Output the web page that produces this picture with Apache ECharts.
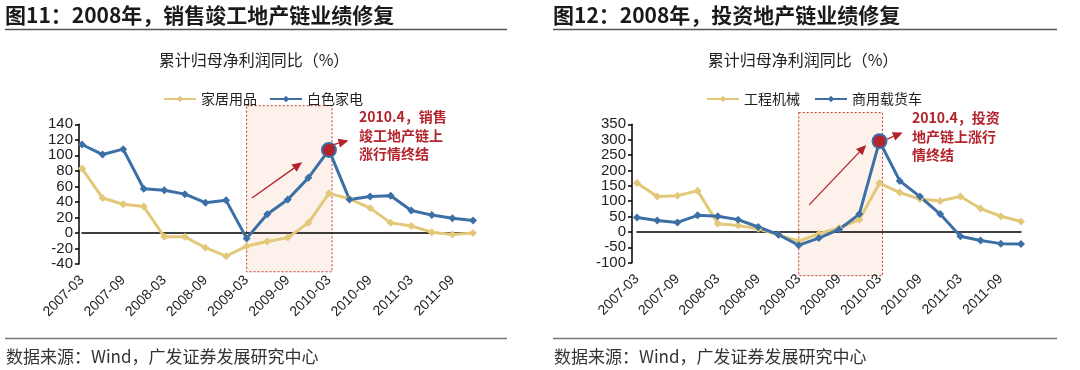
<!DOCTYPE html>
<html><head><meta charset="utf-8">
<script src="https://cdn.jsdelivr.net/npm/echarts@6/dist/echarts.min.js"></script>
<style>html,body{margin:0;padding:0;background:#fff}#c{width:1080px;height:370px}</style>
</head><body><div id="c"></div>
<script>
// ---- data ----
const categories = ['2007-03','2007-06','2007-09','2007-12','2008-03','2008-06','2008-09','2008-12',
  '2009-03','2009-06','2009-09','2009-12','2010-03','2010-06','2010-09','2010-12',
  '2011-03','2011-06','2011-09','2011-12'];
const leftTicks = [-40, 140, 20];
const rightTicks = [-100, 350, 50];
const homeFurnishing = [83,45,37,34,-5,-5,-19,-30,-17,-11,-6,13,51,44,32,13,9,1,-2,0];      // 家居用品
const whiteGoods     = [114,101,108,57,55,50,39,42,-7,24,43,71,107,43,47,48,29,23,19,16];   // 白色家电
const constructionMach = [159,115,118,134,27,21,10,-9,-30,-6,13,40,159,128,107,101,115,76,51,34]; // 工程机械
const commercialTruck  = [47,37,31,54,51,40,16,-9,-43,-20,8,58,295,166,115,58,-14,-28,-38,-39]; // 商用载货车
const peakIndex = 12;
const boxStart = 8, boxEnd = 12.15;
const leftBoxRange = [164, -50], rightBoxRange = [388, -142];

const BLUE = '#3B6FA6', YELLOW = '#E3C879', RED = '#B3232B';
const FONT = '"Liberation Sans", Arial, sans-serif';
const CJK = '"Noto Sans CJK SC", sans-serif';

const chart = echarts.init(document.getElementById('c'), null, {renderer:'canvas'});

function peakData(arr){
  return arr.map((v,i)=> i===peakIndex ? {value:v, symbol:'circle', symbolSize:14,
     itemStyle:{color:RED, borderColor:BLUE, borderWidth:2}} : v);
}
function xAxes(grid){
  return [{
    type:'category', gridIndex:grid, data:categories, boundaryGap:false, position:'bottom',
    axisLine:{show:false, onZero:false}, axisTick:{show:false},
    axisLabel:{interval:1, rotate:45, margin:14, fontSize:14, color:'#222', fontFamily:FONT}
  },{
    type:'category', gridIndex:grid, data:categories, boundaryGap:false, position:'bottom',
    axisLine:{show:true, onZero:true, lineStyle:{color:'#000', width:1.5}},
    axisTick:{show:false}, axisLabel:{show:false}
  }];
}
function yAxis(grid, t, off, fs){
  return {type:'value', gridIndex:grid, min:t[0], max:t[1], interval:t[2], offset:off,
    axisLine:{show:true, lineStyle:{color:'#000', width:1.5}},
    axisTick:{show:true, inside:false, length:4, lineStyle:{color:'#000', width:1.5}},
    splitLine:{show:false},
    axisLabel:{fontSize:fs, color:'#222', fontFamily:FONT, margin:6}};
}
function lineSeries(name, data, color, xi, yi){
  return {name, type:'line', xAxisIndex:xi, yAxisIndex:yi, data, showAllSymbol:true,
    symbol:'diamond', symbolSize:8, lineStyle:{width:3, color}, itemStyle:{color},
    animation:false};
}

const option = {
  animation:false,
  grid:[{left:82, top:124.3, width:391, height:139.7},{left:637, top:124.3, width:384, height:138.4}],
  xAxis:[...xAxes(0), ...xAxes(1)],
  yAxis:[yAxis(0, leftTicks, 3, 15), yAxis(1, rightTicks, 5, 15)],
  legend:[
    {data:['家居用品','白色家电'], left:158, top:87, itemWidth:32, itemHeight:8, itemGap:12,
     textStyle:{fontSize:14, color:'#222', fontFamily:CJK}},
    {data:['工程机械','商用载货车'], left:701, top:87, itemWidth:32, itemHeight:8, itemGap:14,
     textStyle:{fontSize:14, color:'#222', fontFamily:CJK}}
  ],
  series:[
    lineSeries('家居用品', homeFurnishing, YELLOW, 0, 0),
    lineSeries('白色家电', peakData(whiteGoods), BLUE, 0, 0),
    lineSeries('工程机械', constructionMach, YELLOW, 2, 1),
    lineSeries('商用载货车', peakData(commercialTruck), BLUE, 2, 1)
  ]
};
chart.setOption(option);

// ---- annotations positioned through the chart's own scales ----
function px(seriesIndex, idx, val){
  const i0 = Math.floor(idx), f = idx - i0;
  const a = chart.convertToPixel({seriesIndex}, [i0, val]);
  const b = chart.convertToPixel({seriesIndex}, [i0+1, val]);
  return [a[0] + (b[0]-a[0])*f, a[1]];
}
function arrow(p0, p1){
  const dx = p1[0]-p0[0], dy = p1[1]-p0[1], L = Math.hypot(dx,dy);
  const ux = dx/L, uy = dy/L, hl = 10, hw = 4.5;
  const base = [p1[0]-ux*hl, p1[1]-uy*hl];
  return [
    {type:'line', silent:true, z:5, shape:{x1:p0[0], y1:p0[1], x2:base[0], y2:base[1]}, style:{stroke:RED, lineWidth:1.3}},
    {type:'polygon', silent:true, z:5, shape:{points:[p1, [base[0]-uy*hw, base[1]+ux*hw], [base[0]+uy*hw, base[1]-ux*hw]]}, style:{fill:RED}}
  ];
}
function boxRect(si, range){
  const a = px(si, boxStart, range[0]), b = px(si, boxEnd, range[1]);
  return {type:'rect', silent:true, z:0, shape:{x:a[0], y:a[1], width:b[0]-a[0], height:b[1]-a[1]},
    style:{fill:'rgba(252,236,228,0.75)', stroke:'#C0392B', lineWidth:1, lineDash:[2,2]}};
}
const g = [];
g.push(boxRect(1, leftBoxRange));
g.push(boxRect(3, rightBoxRange));
g.push(...arrow(px(1, 8.26, 45), px(1, 10.7, 91)));
g.push(...arrow(px(1, 12.1, 113), px(1, 12.95, 119)));
g.push(...arrow(px(3, 8.52, 88), px(3, 11.34, 283)));
g.push(...arrow(px(3, 12.38, 302), px(3, 13.15, 323)));

// titles
g.push({type:'text', x:5, y:15, silent:true, style:{text:'图11：2008年，销售竣工地产链业绩修复', fill:'#1a1a1a', font:'bold 21px '+CJK, verticalAlign:'middle'}});
g.push({type:'text', x:553, y:15, silent:true, style:{text:'图12：2008年，投资地产链业绩修复', fill:'#1a1a1a', font:'bold 21px '+CJK, verticalAlign:'middle'}});
g.push({type:'line', silent:true, shape:{x1:5,y1:29.5,x2:507,y2:29.5}, style:{stroke:'#555', lineWidth:1.5}});
g.push({type:'line', silent:true, shape:{x1:553,y1:29.5,x2:1057,y2:29.5}, style:{stroke:'#555', lineWidth:1.5}});
// subtitles
g.push({type:'text', x:254, y:60, silent:true, style:{text:'累计归母净利润同比（%）', fill:'#222', font:'16px '+CJK, align:'center', verticalAlign:'middle'}});
g.push({type:'text', x:803, y:60, silent:true, style:{text:'累计归母净利润同比（%）', fill:'#222', font:'16px '+CJK, align:'center', verticalAlign:'middle'}});
// annotation texts
g.push({type:'text', x:359, y:107.5, silent:true, z:5, style:{text:'2010.4，销售\n竣工地产链上\n涨行情终结', fill:RED, font:'bold 14px '+CJK, lineHeight:18.5, verticalAlign:'top'}});
g.push({type:'text', x:912, y:108.5, silent:true, z:5, style:{text:'2010.4，投资\n地产链上涨行\n情终结', fill:RED, font:'bold 14px '+CJK, lineHeight:18.5, verticalAlign:'top'}});
// footers
g.push({type:'line', silent:true, shape:{x1:5,y1:338.5,x2:507,y2:338.5}, style:{stroke:'#777', lineWidth:1.5}});
g.push({type:'line', silent:true, shape:{x1:553,y1:338.5,x2:1057,y2:338.5}, style:{stroke:'#777', lineWidth:1.5}});
g.push({type:'text', x:6, y:357, silent:true, style:{text:'数据来源：Wind，广发证券发展研究中心', fill:'#333', font:'17px '+CJK, verticalAlign:'middle'}});
g.push({type:'text', x:554, y:357, silent:true, style:{text:'数据来源：Wind，广发证券发展研究中心', fill:'#333', font:'17px '+CJK, verticalAlign:'middle'}});

chart.setOption({graphic:{elements:g}});
</script>
</body></html>
